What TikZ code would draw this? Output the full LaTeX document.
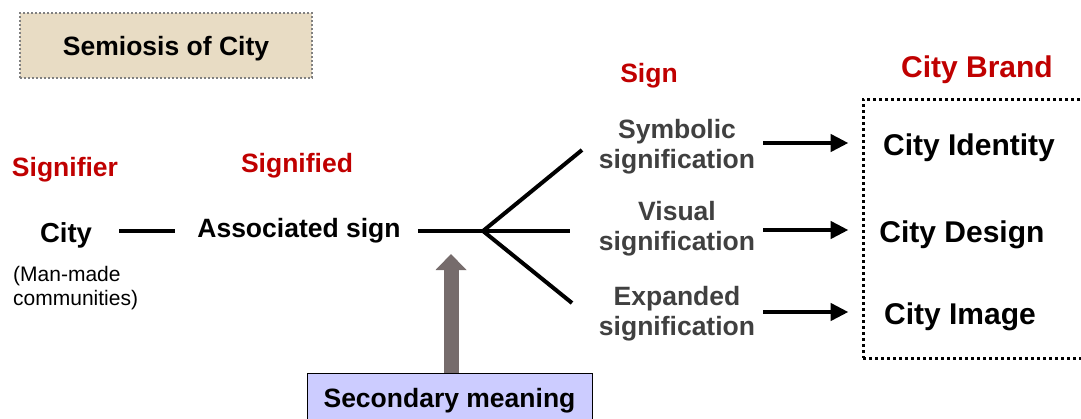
\documentclass[tikz,border=0pt]{standalone}
\usepackage{fontspec}
\setmainfont{Liberation Sans}
\usetikzlibrary{arrows.meta}
\usepackage{xcolor}
\definecolor{brandred}{RGB}{192,0,0}
\definecolor{signgray}{RGB}{64,64,64}
\definecolor{titlebeige}{RGB}{232,220,196}
\definecolor{secviolet}{RGB}{204,204,255}
\definecolor{pushgray}{RGB}{118,108,108}

\tikzset{
  headtxt/.style={text=brandred, inner sep=0pt,
    font=\fontsize{26.5}{30}\selectfont\bfseries},
  bodytxt/.style={inner sep=0pt,
    font=\fontsize{26.5}{30}\selectfont\bfseries},
  signtxt/.style={text=signgray, align=center, inner sep=0pt,
    font=\fontsize{26.5}{30}\selectfont\bfseries},
  brandtxt/.style={inner sep=0pt,
    font=\fontsize{30}{34}\selectfont\bfseries},
  link/.style={line width=4pt},
  feed/.style={line width=4.5pt, -{Triangle[length=18pt,width=17pt]},
    shorten <=8pt, shorten >=13pt}
}

\begin{document}
\begin{tikzpicture}[x=1pt, y=-1pt]
      \useasboundingbox (0,0) rectangle (1081,418);

      % title
      \node[draw=gray, line width=2pt, dash pattern=on 2pt off 2pt,
        fill=titlebeige, minimum width=292pt, minimum height=65pt,
        text depth=0pt, font=\fontsize{26.5}{30}\selectfont\bfseries] (title)
        at (166,45.5) {Semiosis of City};

      % column heads
      \node[headtxt] (signifier) at (65,170) {Signifier};
      \node[headtxt] (signified) at (297,166) {Signified};
      \node[headtxt] (sign) at (649,76) {Sign};
      \node[headtxt, font=\fontsize{30}{34}\selectfont\bfseries] (brand)
        at (977,70) {City Brand};

      % signifier and signified
      \node[bodytxt, font=\fontsize{27.5}{30}\selectfont\bfseries] (city)
        at (66,235) {City};
      \node[anchor=north west, align=left, inner sep=0pt,
        font=\fontsize{21}{24}\selectfont] (mancomm)
        at (13,266) {(Man-made\\communities)};
      \node[bodytxt] (assoc) at (299,231) {Associated sign};

      \coordinate (fork) at (483,231);
      \coordinate (symend) at (582,150);
      \coordinate (visend) at (570,231);
      \coordinate (expend) at (572,303);

      \draw[link, shorten <=27pt, shorten >=22pt]
        (city.east |- fork) -- (assoc.west |- fork);
      \draw[link, shorten <=17pt] (assoc.east |- fork) -- (visend);
      \draw[link] (symend) -- (fork) -- (expend);

      % secondary meaning
      \node[draw, line width=1pt, fill=secviolet, minimum width=285pt,
        minimum height=50pt, text depth=0pt, bodytxt] (secmean)
        at (449.5,398) {Secondary meaning};
      \draw[pushgray, line width=15pt, -{Triangle[length=16pt,width=30pt]},
        shorten >=23pt]
        ([xshift=1.5pt]secmean.north) -- ([xshift=1.5pt]secmean.north |- fork);

      % signs
      \node[signtxt] (symb) at (677,147) {Symbolic\\signification};
      \node[signtxt] (visu) at (677,229) {Visual\\signification};
      \node[signtxt] (expa) at (677,314) {Expanded\\signification};

      % city brand
      \node[draw, line width=3pt, dash pattern=on 3pt off 3pt,
        minimum width=240pt, minimum height=259pt, inner sep=0pt] (brandbox)
        at (983,228.5) {};
      \node[brandtxt] (ident) at (969,148) {City Identity};
      \node[brandtxt] (design) at (962,235) {City Design};
      \node[brandtxt] (image) at (960,317) {City Image};

      \draw[feed] ([yshift=5pt]symb.east |- ident) -- ([yshift=5pt]brandbox.west |- ident);
      \draw[feed] ([yshift=5pt]visu.east |- design) -- ([yshift=5pt]brandbox.west |- design);
      \draw[feed] ([yshift=5pt]expa.east |- image) -- ([yshift=5pt]brandbox.west |- image);
    \end{tikzpicture}
\end{document}
